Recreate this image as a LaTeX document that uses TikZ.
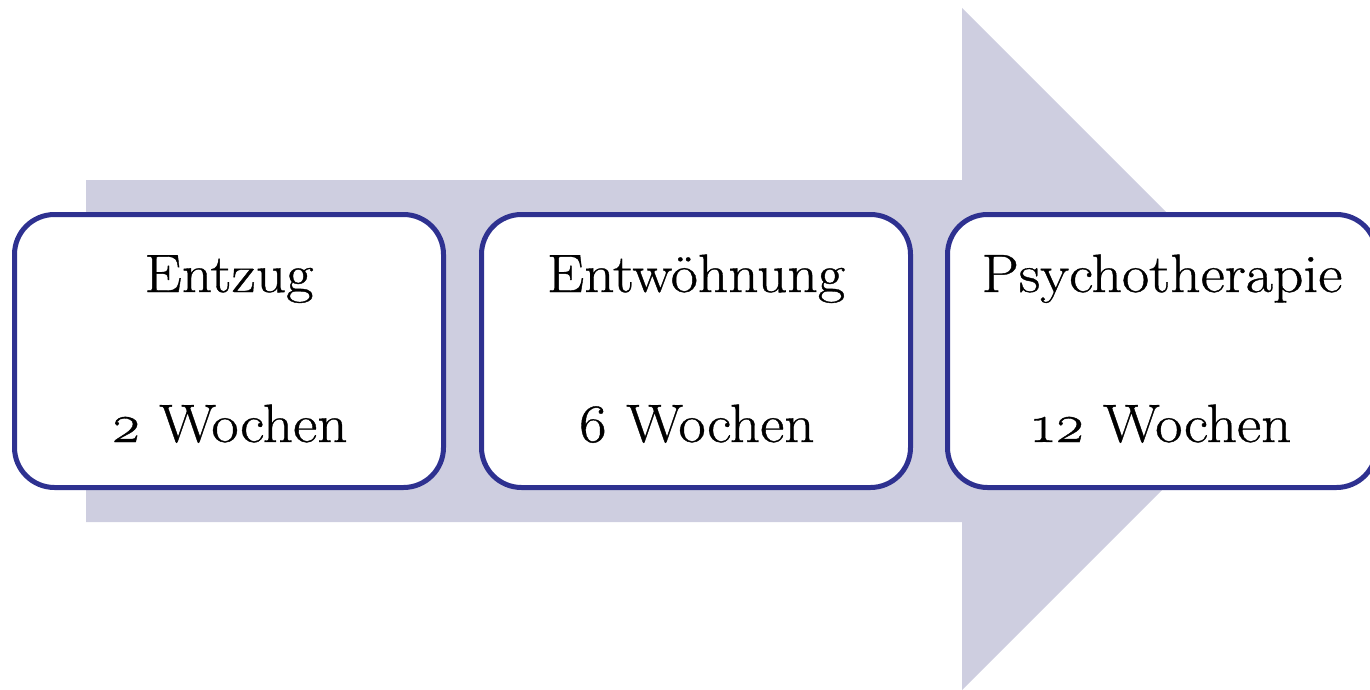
\documentclass[tikz,border=0pt]{standalone}
\usepackage{fontspec}
\setmainfont{Latin Modern Roman}[FakeStretch=1.1, FakeBold=0.7, Numbers=OldStyle]
\usetikzlibrary{calc}
\definecolor{arrowfill}{HTML}{CECEE0}
\definecolor{boxline}{HTML}{2E3190}
\tikzset{
  stage/.style={draw=boxline, line width=5pt, fill=white, rounded corners=40pt,
    minimum width=429pt, minimum height=273pt, inner sep=0pt},
  label/.style={anchor=base, inner sep=0pt, font=\fontsize{54}{60}\selectfont}
}
\begin{document}
\begin{tikzpicture}[x=1pt,y=-1pt]
\useasboundingbox (0,0) rectangle (1370,690);
\clip (0,0) rectangle (1370,690);
% broad background arrow
\fill[arrowfill] (86,180) -- (962,180) -- (962,8) -- (1303,349) -- (962,690)
  -- (962,522) -- (86,522) -- cycle;
% the three stages
\node[stage] (s1) at (229,351) {};
\node[stage] (s2) at (696,351) {};
\node[stage] (s3) at (1162,351) {};
\foreach \s/\name/\dur in {s1/Entzug/2, s2/Entwöhnung/6, s3/Psychotherapie/12}{
  \node[label] (\s top) at ($(\s.center)+(0,-59)$) {\name};
  \node[label] (\s bot) at ($(\s.center)+(0,91)$) {\dur{} Wochen};
}
\end{tikzpicture}
\end{document}
